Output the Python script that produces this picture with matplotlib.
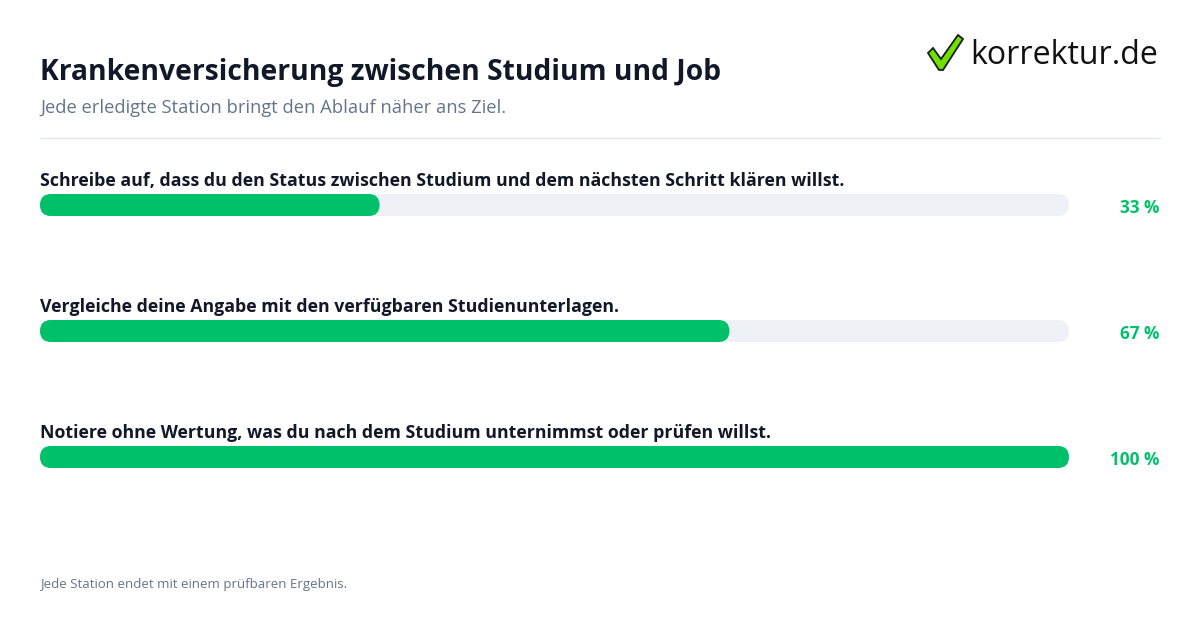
import matplotlib
matplotlib.use("Agg")
import matplotlib.pyplot as plt
from matplotlib.patches import FancyBboxPatch, Polygon

plt.rcParams['font.family'] = ['Open Sans', 'DejaVu Sans']

title = 'Krankenversicherung zwischen Studium und Job'
subtitle = 'Jede erledigte Station bringt den Ablauf näher ans Ziel.'
footer = 'Jede Station endet mit einem prüfbaren Ergebnis.'
steps = [
    'Schreibe auf, dass du den Status zwischen Studium und dem nächsten Schritt klären willst.',
    'Vergleiche deine Angabe mit den verfügbaren Studienunterlagen.',
    'Notiere ohne Wertung, was du nach dem Studium unternimmst oder prüfen willst.',
]
progress = [33, 67, 100]

W, H = 1200, 630
fig = plt.figure(figsize=(12, 6.3), dpi=100)
fig.patch.set_facecolor('white')

# background axes in pixel units for the texts
bg = fig.add_axes([0, 0, 1, 1])
bg.set_xlim(0, W)
bg.set_ylim(H, 0)
bg.axis('off')

dark = '#111827'
grey = '#64748b'
green = '#00c16a'
track = '#eef2f7'

bg.text(40, 80, title, fontsize=20.3, fontweight='bold', color=dark, va='baseline')
bg.text(40, 113, subtitle, fontsize=13.2, color=grey, va='baseline')
bg.plot([40, 1160], [138, 138], color='#e2e8f0', lw=1)
bg.text(40, 588, footer, fontsize=9.5, color=grey, va='baseline')

# logo
check = Polygon([(928, 53), (933, 48), (941, 59), (958, 35), (963, 39), (943, 70), (939, 70)],
                closed=True, facecolor='#6fe000', edgecolor='#1a1a1a', lw=1.3)
bg.add_patch(check)
bg.text(970, 64, 'korrektur.de', fontsize=23.1, color='#111111', va='baseline')

# progress bars
ax = fig.add_axes([40 / W, 0, 1029 / W, 1])
ax.set_xlim(0, 100)
ax.set_ylim(H, 0)
ax.axis('off')

row_y = [205, 331, 457]
bar_h = 22
x_per_px = 100 / 1029
aspect = 1 / x_per_px
r = bar_h / 2 * x_per_px

for label, val, y in zip(steps, progress, row_y):
    ax.add_patch(FancyBboxPatch((0, y - bar_h / 2), 100, bar_h,
                                boxstyle=f'round,pad=0,rounding_size={r}',
                                mutation_aspect=aspect, fc=track, ec='none'))
    ax.add_patch(FancyBboxPatch((0, y - bar_h / 2), val, bar_h,
                                boxstyle=f'round,pad=0,rounding_size={r}',
                                mutation_aspect=aspect, fc=green, ec='none'))
    bg.text(40, y - 19, label, fontsize=12.8, fontweight='bold', color=dark, va='baseline')
    bg.text(1159, y + 3, f'{val} %', fontsize=12.3, fontweight='bold', color=green,
            ha='right', va='center')

fig.savefig('out.png', dpi=100, facecolor='white')
